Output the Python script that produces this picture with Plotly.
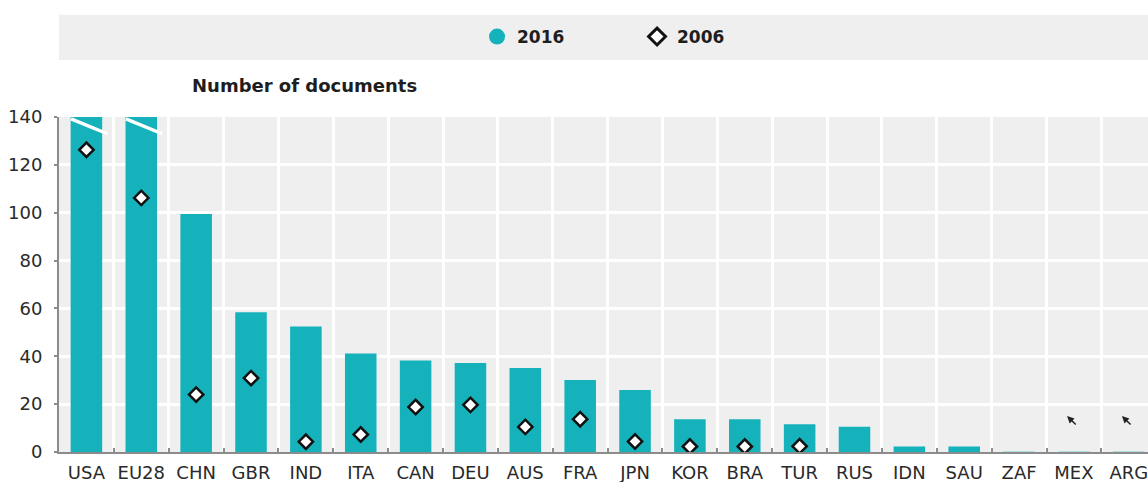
import plotly.graph_objects as go

categories = ["USA", "EU28", "CHN", "GBR", "IND", "ITA", "CAN", "DEU", "AUS", "FRA",
              "JPN", "KOR", "BRA", "TUR", "RUS", "IDN", "SAU", "ZAF", "MEX", "ARG"]
docs_2016 = [175, 165, 99.5, 58.4, 52.4, 41.2, 38.2, 37.2, 35.1, 30.1,
             25.9, 13.7, 13.7, 11.6, 10.6, 2.3, 2.3, 0.4, 0.4, 0.4]
docs_2006 = [126.3, 106.2, 24.0, 30.9, 4.3, 7.3, 18.8, 19.7, 10.5, 13.7,
             4.4, 2.3, 2.3, 2.4, None, None, None, None, None, None]
broken_cats = ["USA", "EU28"]
arrow_cats = ["MEX", "ARG"]
arrow_head_y = [15.0, 15.0]
arrow_tail_y = [10.9, 10.9]
y_ticks = [0, 20, 40, 60, 80, 100, 120, 140]

TEAL = "#15b2bc"
TEAL_LIGHT = "rgba(21,178,188,0.30)"
BG = "#efefef"
AXIS = "#8c8c8c"
TXT = "#1e1e1e"
FONT = "DejaVu Sans"

bar_colors = [TEAL_LIGHT if v < 1 else TEAL for v in docs_2016]

fig = go.Figure()
fig.add_trace(go.Bar(x=categories, y=docs_2016, marker=dict(color=bar_colors, line=dict(width=0)),
                     width=0.575, showlegend=False, name="2016"))
fig.add_trace(go.Scatter(x=categories, y=docs_2006, mode="markers", showlegend=False, name="2006",
                         marker=dict(symbol="diamond", size=11, color="white",
                                     line=dict(color="#111111", width=2.5))))
# legend-only entries
fig.add_trace(go.Scatter(x=[None], y=[None], mode="markers", name="2016",
                         marker=dict(symbol="circle", size=20, color=TEAL)))
fig.add_trace(go.Scatter(x=[None], y=[None], mode="markers", name="2006",
                         marker=dict(symbol="diamond", size=13, color="white",
                                     line=dict(color="#111111", width=3))))

shapes = [dict(type="rect", xref="paper", yref="paper", x0=0, x1=1, y0=1.17, y1=1.305,
               fillcolor=BG, line=dict(width=0), layer="below")]
for c in broken_cats:
    i = categories.index(c)
    shapes.append(dict(type="line", xref="x", yref="y", x0=i - 0.28, x1=i + 0.38,
                       y0=139.2, y1=133.0, line=dict(color="white", width=3.5), layer="above"))

annotations = [dict(text="<b>Number of documents</b>", xref="paper", yref="paper",
                    x=0.225, y=1.0955, xanchor="center", yanchor="middle", showarrow=False,
                    font=dict(family=FONT, size=18, color=TXT))]
for c, hy, ty in zip(arrow_cats, arrow_head_y, arrow_tail_y):
    i = categories.index(c)
    annotations.append(dict(x=i - 0.125, y=hy, ax=i + 0.06, ay=ty, xref="x", yref="y",
                            axref="x", ayref="y", text="", showarrow=True, arrowhead=2,
                            arrowsize=1.0, arrowwidth=1.4, arrowcolor="#222"))

fig.update_layout(
    width=1148, height=482,
    margin=dict(l=59, r=0, t=117, b=30),
    paper_bgcolor="white", plot_bgcolor=BG,
    font=dict(family=FONT, size=18, color=TXT),
    bargap=0.4,
    shapes=shapes, annotations=annotations,
    legend=dict(orientation="h", x=0.5308, xanchor="center", y=1.2388, yanchor="middle",
                bgcolor="rgba(0,0,0,0)", font=dict(family=FONT, size=17, color=TXT, weight="bold"),
                entrywidth=115, itemwidth=30),
    xaxis=dict(type="category", range=[-0.5, 19.35], tickson="boundaries",
               showgrid=True, gridcolor="white", gridwidth=3,
               showline=True, linecolor=AXIS, linewidth=2,
               ticks="inside", ticklen=4, tickwidth=2, tickcolor=AXIS,
               tickangle=0, automargin=False,
               tickfont=dict(family=FONT, size=18, color="#2a2a2a"), ticklabelstandoff=3,
               zeroline=False),
    yaxis=dict(range=[0, 140], tickvals=y_ticks, showgrid=True, gridcolor="white", gridwidth=2.5,
               showline=True, linecolor=AXIS, linewidth=2,
               ticks="outside", ticklen=3, tickwidth=2, tickcolor=AXIS, automargin=False,
               tickfont=dict(family=FONT, size=18, color="#2a2a2a"), ticklabelstandoff=8,
               zeroline=False),
)

fig.write_html("out.html", config={"displayModeBar": False},
               post_script="document.body.style.margin='0';document.body.style.overflow='hidden';")
